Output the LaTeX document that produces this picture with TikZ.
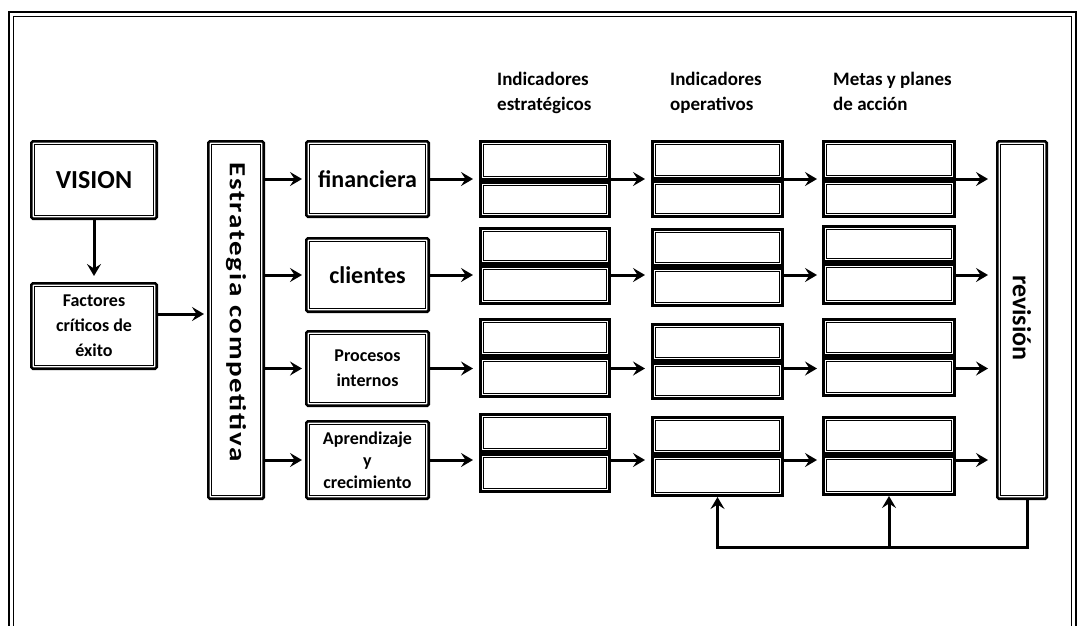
\documentclass[tikz,border=0pt]{standalone}
\usepackage{fontspec}
\usepackage{graphicx}
\setmainfont{Carlito}
\usetikzlibrary{arrows.meta}

% box with a heavy outline and a thin inner rule
\tikzset{
  dbox/.style={draw, line width=2.6pt, rounded corners=1.5pt, fill=white, inner sep=0pt, align=center,
    path picture={\draw[line width=0.8pt, sharp corners]
      ([shift={(3.4pt,-3.4pt)}]path picture bounding box.north west) rectangle
      ([shift={(-3.4pt,3.4pt)}]path picture bounding box.south east);}},
  cell/.style={dbox, rounded corners=0pt},
  arr/.style={line width=3pt, -{Stealth[length=12pt,width=14pt,inset=4.5pt]}},
  lbl/.style={font=\bfseries\fontsize{19}{25}\selectfont, inner sep=0pt, anchor=north west, align=left},
}

% \mkbox{style}{name}{x1}{y1}{x2}{y2}{text}: box given by its outer corners
\newcommand\mkbox[7]{%
  \pgfmathsetmacro\bxw{#5-#3-2.6}%
  \pgfmathsetmacro\bxh{#6-#4-2.6}%
  \node[#1, minimum width=\bxw pt, minimum height=\bxh pt] (#2) at ({(#3+#5)/2},{(#4+#6)/2}) {#7};}

% \mkpair{prefix}{x1}{x2}{ytop}{ymid}{ybottom}: box split into two cells
\newcommand\mkpair[6]{%
  \mkbox{cell}{#1t}{#2}{#4}{#3}{#5}{}%
  \mkbox{cell}{#1b}{#2}{#5}{#3}{#6}{}}

\begin{document}
\begin{tikzpicture}[x=1pt, y=-1pt]
\useasboundingbox (0,0) rectangle (1079,625);

% outer frame
\draw[line width=2.6pt] (9,630) -- (9,12) -- (1076,12) -- (1076,630);
\draw[line width=0.7pt] (13.5,630) -- (13.5,16.5) -- (1071.5,16.5) -- (1071.5,630);

% column headers
\node[lbl] (h1) at (497,72) {Indicadores\\estratégicos};
\node[lbl] (h2) at (670,72) {Indicadores\\operativos};
\node[lbl] (h3) at (833,72) {Metas y planes\\de acción};

% left part
\mkbox{dbox, font=\bfseries\fontsize{26}{30}\selectfont}{vis}{30}{140}{158}{220}{VISION}
\mkbox{dbox, font=\bfseries\fontsize{18}{25}\selectfont}{fac}{30}{282}{158}{370}{Factores\\críticos de\\éxito}
\mkbox{dbox}{est}{207}{140}{265}{500}{}
\node[rotate=-90, inner sep=0pt, font=\bfseries\fontsize{22}{26}\selectfont\addfontfeatures{LetterSpace=6}] (esttxt) at (236,312)
  {\scalebox{1.32}[1.05]{Estrategia competitiva}};

% perspectives
\mkbox{dbox, font=\bfseries\fontsize{24}{28}\selectfont}{fin}{305}{140}{430}{218}{financiera}
\mkbox{dbox, font=\bfseries\fontsize{24}{28}\selectfont}{cli}{305}{237}{430}{313}{clientes}
\mkbox{dbox, font=\bfseries\fontsize{18}{25}\selectfont}{pro}{305}{330}{430}{407}{Procesos\\internos}
\mkbox{dbox, font=\bfseries\fontsize{18}{22}\selectfont}{apr}{305}{420}{430}{500}{Aprendizaje\\y\\crecimiento}

% indicator columns
\mkpair{e1}{479}{611}{140}{181}{218}
\mkpair{e2}{479}{611}{227}{265}{305}
\mkpair{e3}{479}{611}{318}{357}{398}
\mkpair{e4}{479}{611}{413}{453}{493}

\mkpair{o1}{651}{784}{140}{180}{218}
\mkpair{o2}{651}{784}{228}{267}{307}
\mkpair{o3}{651}{784}{323}{362}{400}
\mkpair{o4}{651}{784}{416}{455}{497}

\mkpair{m1}{822}{956}{140}{180}{218}
\mkpair{m2}{822}{956}{225}{263}{305}
\mkpair{m3}{822}{956}{318}{357}{397}
\mkpair{m4}{822}{956}{416}{455}{496}

% review
\mkbox{dbox}{rev}{996}{140}{1048}{500}{}
\node[rotate=-90, inner sep=0pt, font=\bfseries\fontsize{26}{30}\selectfont] (revtxt) at (1022,318) {revisión};

% connectors on the left
\draw[arr, shorten >=6pt] (vis.south) -- (fac.north);
\draw[arr, shorten >=3pt] ([yshift=12pt]fac.east) -- ([yshift=12pt]fac.east -| est.west);
\foreach \p in {fin,cli,pro,apr}
  \draw[arr, shorten >=3pt] (est.east |- \p.west) -- (\p.west);

% rows of indicators
\foreach \p/\r in {fin/1,cli/2,pro/3,apr/4}{
  \draw[arr, shorten >=6pt] (\p.east) -- (\p.east -| e\r t.west);
  \draw[arr, shorten >=6pt] (\p.east -| e\r t.east) -- (\p.east -| o\r t.west);
  \draw[arr, shorten >=5pt] (\p.east -| o\r t.east) -- (\p.east -| m\r t.west);
  \draw[arr, shorten >=8pt] (\p.east -| m\r t.east) -- (\p.east -| rev.west);
}

% feedback from the review
\coordinate (fb) at (0,547);
\draw[arr] ([xshift=5pt]rev.south) |- (fb -| o4b.south) -- (o4b.south);
\draw[arr] (fb -| m4b.south) -- (m4b.south);
\end{tikzpicture}
\end{document}
